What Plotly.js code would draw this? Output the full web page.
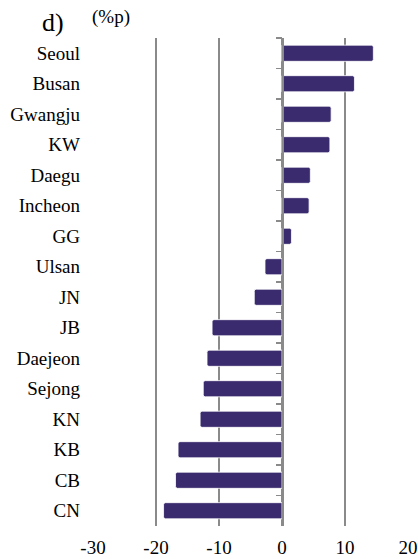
<!DOCTYPE html>
<html><head><meta charset="utf-8">
<script src="https://cdn.plot.ly/plotly-3.0.1.min.js"></script>
<style>html,body{margin:0;padding:0;background:#fff}#chart{width:418px;height:559px}</style>
</head><body><div id="chart"></div>
<script>
const regions = ["Seoul","Busan","Gwangju","KW","Daegu","Incheon","GG","Ulsan","JN","JB","Daejeon","Sejong","KN","KB","CB","CN"];
const changes = [14.5,11.5,7.8,7.6,4.5,4.3,1.5,-2.7,-4.4,-11.1,-11.9,-12.5,-13.0,-16.5,-16.9,-18.8];
const xTicks = [-30,-20,-10,0,10,20];
const barColor = "#3a2b6e";
const zeros = regions.map(() => 0);

const traces = [
  {type:"bar", orientation:"h", x:changes, y:regions, yaxis:"y",
   marker:{color:barColor, line:{color:"#ffffff", width:0.8}, cornerradius:2},
   width:0.53, hoverinfo:"skip", showlegend:false},
  {type:"scatter", mode:"none", x:zeros, y:regions, yaxis:"y2", xaxis:"x",
   hoverinfo:"skip", showlegend:false}
];

const fam = "Liberation Serif";
const font = {family:fam, size:19, color:"#000"};
const layout = {
  width:418, height:559,
  margin:{l:93, r:10, t:38, b:33},
  paper_bgcolor:"#fff", plot_bgcolor:"#fff",
  font:font, showlegend:false,
  title:{text:"d)", xref:"container", yref:"container", x:42/418, xanchor:"left",
    y:1-22/559, yanchor:"middle", font:{family:fam, size:26, color:"#000"}},
  xaxis:{range:[-30,20], tickvals:xTicks, ticktext:xTicks.map(String),
    showgrid:true, gridcolor:"#8a8a8a", gridwidth:1.5,
    zeroline:false, showline:false, ticks:"", ticklabelstandoff:8, tickfont:font, fixedrange:true},
  yaxis:{type:"category", categoryorder:"array", categoryarray:regions,
    range:[15.5,-0.5], showgrid:false, zeroline:false, showline:false,
    ticks:"", ticklabelstandoff:12, tickfont:font, fixedrange:true},
  yaxis2:{type:"category", categoryorder:"array", categoryarray:regions,
    range:[15.5,-0.5], overlaying:"y", anchor:"free", position:0.6, side:"left",
    showgrid:false, zeroline:false, showline:true, linecolor:"#8a8a8a", linewidth:1.5,
    ticks:"outside", tickson:"boundaries", ticklen:6, tickcolor:"#8a8a8a", tickwidth:1.5,
    showticklabels:false, fixedrange:true},
  annotations:[
    {text:"(%p)", xref:"paper", yref:"paper", x:-0.01, y:1.0, yshift:21, xanchor:"left", yanchor:"middle",
     showarrow:false, font:{family:fam, size:19, color:"#000"}}
  ]
};
Plotly.newPlot("chart", traces, layout, {displayModeBar:false, staticPlot:true});
</script></body></html>
